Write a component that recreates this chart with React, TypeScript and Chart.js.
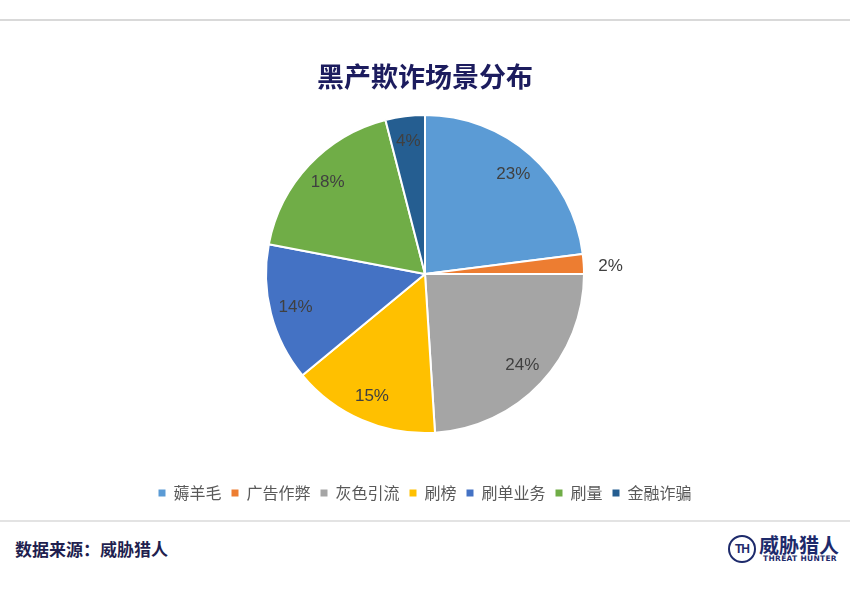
import React, { useEffect, useRef } from "react";
import { Chart, registerables } from "chart.js";

Chart.register(...registerables);

const categories = ["薅羊毛", "广告作弊", "灰色引流", "刷榜", "刷单业务", "刷量", "金融诈骗"];
const shares = [23, 2, 24, 15, 14, 18, 4];
const sliceColors = ["#5B9BD5", "#ED7D31", "#A5A5A5", "#FFC000", "#4472C4", "#70AD47", "#255E91"];
const titleText = "黑产欺诈场景分布";
const sourceText = "数据来源：威胁猎人";

const CJK = '"Noto Sans CJK SC", "Noto Sans", sans-serif';

const labelPlugin = {
  id: "sliceLabels",
  afterDatasetsDraw(chart: any) {
    const meta = chart.getDatasetMeta(0);
    const ctx = chart.ctx;
    ctx.save();
    ctx.font = '17px "Liberation Sans", Arial, sans-serif';
    ctx.fillStyle = "#404040";
    ctx.textAlign = "center";
    ctx.textBaseline = "middle";
    meta.data.forEach((arc: any, i: number) => {
      const p = arc.getProps(["x", "y", "startAngle", "endAngle", "outerRadius"], true);
      const mid = (p.startAngle + p.endAngle) / 2;
      const v = shares[i];
      const r = v < 3 ? p.outerRadius + 27 : p.outerRadius * 0.84;
      const tx = p.x + Math.cos(mid) * r;
      const ty = p.y + Math.sin(mid) * r + (v < 3 ? 4 : 0);
      ctx.fillText(v + "%", tx, ty);
    });
    ctx.restore();
  },
};

export default function App() {
  const ref = useRef<HTMLCanvasElement>(null);
  useEffect(() => {
    if (!ref.current) return;
    const chart = new Chart(ref.current, {
      type: "pie",
      data: {
        labels: categories,
        datasets: [
          {
            data: shares,
            backgroundColor: sliceColors,
            borderColor: "#ffffff",
            borderWidth: 2,
            radius: 159,
          } as any,
        ],
      },
      options: {
        animation: false,
        responsive: false,
        layout: { padding: { top: 73, bottom: 0, left: 0, right: 0 } },
        plugins: {
          title: { display: false },
          tooltip: { enabled: false },
          legend: {
            display: true,
            position: "bottom",
            labels: {
              boxWidth: 7,
              boxHeight: 7,
              padding: 10,
              color: "#595959",
              font: { size: 16, family: CJK },
              generateLabels: () =>
                categories.map((c, i) => ({
                  text: c,
                  fillStyle: sliceColors[i],
                  strokeStyle: sliceColors[i],
                  lineWidth: 0,
                  hidden: false,
                  index: i,
                  fontColor: "#595959",
                })),
            },
          },
        },
      },
      plugins: [labelPlugin],
    });
    return () => chart.destroy();
  }, []);

  return (
    <div
      style={{
        position: "absolute",
        left: 0,
        top: 0,
        width: 850,
        height: 605,
        background: "#ffffff",
        overflow: "hidden",
      }}
    >
      <div style={{ position: "absolute", left: 0, top: 19, width: 850, height: 2, background: "#d9d9d9" }} />
      <canvas ref={ref} width={850} height={511} style={{ position: "absolute", left: 0, top: 0 }} />
      <div
        style={{
          position: "absolute",
          left: 0,
          top: 58,
          width: 850,
          textAlign: "center",
          fontFamily: CJK,
          fontWeight: 700,
          fontSize: 27,
          lineHeight: "36px",
          color: "#1c1c5e",
        }}
      >
        {titleText}
      </div>
      <div style={{ position: "absolute", left: 0, top: 520, width: 850, height: 2, background: "#e3e3e3" }} />
      <div
        style={{
          position: "absolute",
          left: 15,
          top: 537,
          fontFamily: CJK,
          fontWeight: 700,
          fontSize: 17,
          lineHeight: "24px",
          color: "#1f1f4f",
        }}
      >
        {sourceText}
      </div>
      <div
        style={{
          position: "absolute",
          left: 728,
          top: 535,
          width: 24,
          height: 24,
          border: "2.5px solid #1d2a6b",
          borderRadius: "50%",
          display: "flex",
          alignItems: "center",
          justifyContent: "center",
          fontFamily: '"Liberation Sans", Arial, sans-serif',
          fontWeight: 700,
          fontSize: 12,
          color: "#1d2a6b",
          letterSpacing: -1,
        }}
      >
        TH
      </div>
      <div
        style={{
          position: "absolute",
          left: 757,
          top: 533,
          width: 84,
          textAlign: "center",
          fontFamily: CJK,
          fontWeight: 700,
          fontSize: 20,
          lineHeight: "24px",
          color: "#1d2a6b",
        }}
      >
        威胁猎人
      </div>
      <div
        style={{
          position: "absolute",
          left: 758,
          top: 554,
          width: 84,
          textAlign: "center",
          fontFamily: '"DejaVu Sans", sans-serif',
          fontWeight: 700,
          fontSize: 7.5,
          lineHeight: "10px",
          color: "#1d2a6b",
          letterSpacing: 0.3,
        }}
      >
        THREAT HUNTER
      </div>
    </div>
  );
}
